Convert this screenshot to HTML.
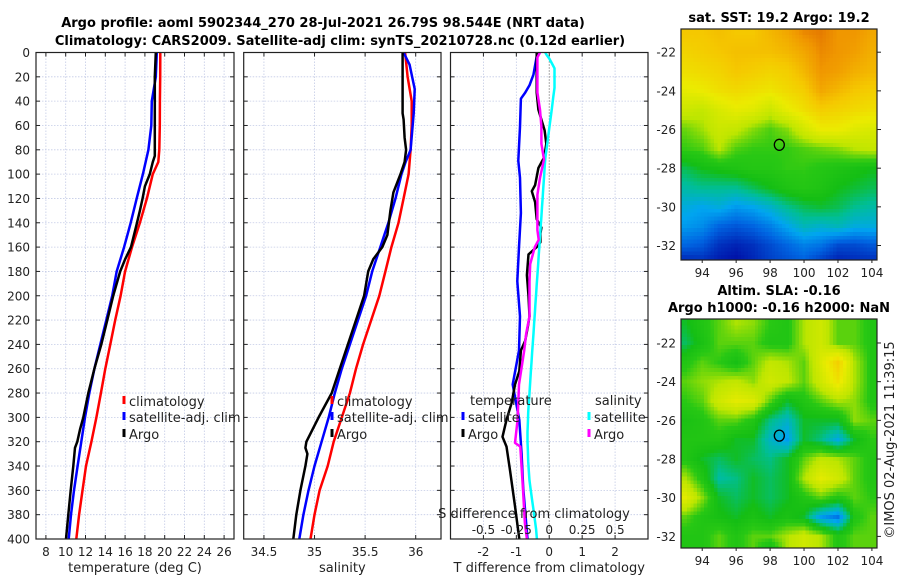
<!DOCTYPE html>
<html><head><meta charset="utf-8"><style>
html,body{margin:0;padding:0;background:#fff;}
svg{display:block;font-family:"DejaVu Sans","Liberation Sans",sans-serif;}
</style></head><body>
<svg id="c" width="900" height="580" viewBox="0 0 900 580" xmlns="http://www.w3.org/2000/svg">
<defs>
<clipPath id="clipM1"><rect x="681" y="29" width="196" height="231"/></clipPath>
<clipPath id="clipM2"><rect x="681" y="319" width="196" height="229"/></clipPath>
</defs>
<text x="323" y="27" text-anchor="middle" font-weight="bold" font-size="13">Argo profile: aoml 5902344_270 28-Jul-2021 26.79S 98.544E (NRT data)</text>
<text x="340" y="45" text-anchor="middle" font-weight="bold" font-size="13">Climatology: CARS2009. Satellite-adj clim: synTS_20210728.nc (0.12d earlier)</text>
<text x="779" y="22" text-anchor="middle" font-weight="bold" font-size="13">sat. SST: 19.2 Argo: 19.2</text>
<text x="779" y="295" text-anchor="middle" font-weight="bold" font-size="13">Altim. SLA: -0.16</text>
<text x="779" y="312" text-anchor="middle" font-weight="bold" font-size="13">Argo h1000: -0.16 h2000: NaN</text>
<text transform="translate(894,440) rotate(-90)" text-anchor="middle" font-size="13" fill="#222">©IMOS 02-Aug-2021 11:39:15</text>
</svg>
<script>
// ---------- data ----------
const depthTicks=[0,20,40,60,80,100,120,140,160,180,200,220,240,260,280,300,320,340,360,380,400];
const tempTicks=[8,10,12,14,16,18,20,22,24,26];
const salTicks=[34.5,35,35.5,36];
const salTickLabels=["34.5","35","35.5","36"];
const tdiffTicks=[-2,-1,0,1,2];
const sdiffTicks=[-0.5,-0.25,0,0.25,0.5];
const sdiffTickLabels=["-0.5","-0.25","0","0.25","0.5"];

const climDepth=[0,20,40,60,80,90,100,120,140,160,180,200,220,240,260,280,300,320,340,360,380,400];
const climTemp=[19.56,19.55,19.52,19.5,19.45,19.35,18.8,18.2,17.5,16.7,16.0,15.55,15.0,14.5,14.0,13.56,13.1,12.6,12.05,11.7,11.35,11.07];
const climSal=[35.895,35.92,35.96,35.96,35.95,35.94,35.93,35.88,35.83,35.76,35.70,35.64,35.56,35.48,35.41,35.35,35.27,35.19,35.13,35.05,35.0,34.96];

const satDepth=[0,20,30,40,60,80,100,120,140,160,180,200,220,240,260,280,300,320,340,360,380,400];
const satTemp=[19.2,19.1,18.9,18.7,18.65,18.35,17.8,17.17,16.57,15.9,15.15,14.7,14.1,13.5,12.9,12.38,11.95,11.58,11.2,10.84,10.54,10.3];
const satSalDepth=[0,10,30,50,80,90,100,120,140,160,180,200,220,240,260,280,300,320,340,360,380,400];
const satSal=[35.88,35.94,35.99,35.98,35.95,35.9,35.86,35.80,35.73,35.65,35.57,35.51,35.43,35.35,35.27,35.20,35.14,35.07,35.0,34.94,34.89,34.85];

const argoDepth=[0,20,40,60,80,85,90,100,110,120,130,140,150,160,170,180,200,220,240,260,280,300,310,320,325,340,360,380,400];
const argoTemp=[19.1,19.0,19.0,19.0,19.0,19.0,18.8,18.5,18.0,17.77,17.5,17.2,16.9,16.6,16.0,15.5,14.8,14.2,13.6,12.9,12.28,11.78,11.44,11.17,10.94,10.77,10.5,10.26,10.03];
const argoSalDepth=[0,10,30,50,55,70,80,90,100,115,130,150,160,170,180,200,220,240,260,280,300,320,325,330,340,360,380,400];
const argoSal=[35.87,35.87,35.87,35.87,35.88,35.89,35.905,35.89,35.85,35.78,35.75,35.72,35.67,35.58,35.53,35.49,35.41,35.33,35.25,35.17,35.04,34.92,34.91,34.93,34.91,34.86,34.82,34.79];

const satTdDepth=[0,18,27,33,38,61,89,103,132,160,188,217,245,273,302,330,358,400];
const satTdiff=[-0.36,-0.48,-0.6,-0.73,-0.86,-0.89,-0.94,-0.89,-0.86,-0.92,-0.97,-0.89,-0.92,-1.11,-0.91,-0.84,-0.79,-0.66];
const argoTdDepth=[0,4,33,47,64,75,86,95,109,114,123,137,144,149,156,160,166,183,200,217,225,237,245,262,273,288,302,316,324,344,373,400];
const argoTdiff=[-0.38,-0.38,-0.38,-0.33,-0.14,-0.09,-0.15,-0.33,-0.43,-0.53,-0.43,-0.38,-0.24,-0.27,-0.27,-0.38,-0.63,-0.68,-0.63,-0.6,-0.65,-0.73,-0.86,-0.91,-1.04,-1.14,-1.3,-1.42,-1.3,-1.19,-1.04,-0.91];
const satSdDepth=[0,2,5,9,13,21,29,37,46,54,62,71,79,87,95,103,111,119,127,135,143,151,159,167,175,183,191,199,207,215,223,231,239,247,255,263,271,280,288,296,304,312,320,328,336,344,352,360,368,376,384,392,400];
const satSdiff=[-0.03,-0.02,0.0,0.02,0.04,0.04,0.04,0.03,0.02,0.01,0.0,-0.01,-0.02,-0.03,-0.035,-0.04,-0.045,-0.05,-0.055,-0.06,-0.065,-0.07,-0.075,-0.08,-0.085,-0.09,-0.095,-0.1,-0.105,-0.11,-0.115,-0.12,-0.125,-0.13,-0.135,-0.14,-0.145,-0.15,-0.155,-0.16,-0.162,-0.165,-0.165,-0.162,-0.16,-0.155,-0.15,-0.14,-0.13,-0.12,-0.11,-0.1,-0.094];
const argoSdDepth=[0,4,33,47,61,75,88,103,117,132,146,154,160,174,188,217,231,245,259,273,288,302,321,324,358,387,400];
const argoSdiff=[-0.07,-0.09,-0.09,-0.07,-0.06,-0.06,-0.04,-0.07,-0.09,-0.09,-0.09,-0.08,-0.11,-0.145,-0.15,-0.15,-0.175,-0.19,-0.21,-0.23,-0.235,-0.24,-0.26,-0.22,-0.2,-0.185,-0.17];

const mapLons=[93,94,95,96,97,98,99,100,101,102,103,104];
const mapLats=[-21,-22,-23,-24,-25,-26,-27,-28,-29,-30,-31,-32,-33];
const lonTicks=[94,96,98,100,102,104];
const latTicks=[-22,-24,-26,-28,-30,-32];
const sstGrid=[
[20.6,20.6,20.7,20.6,20.6,20.8,21.0,21.3,21.4,21.2,21.2,21.0],
[20.4,20.5,20.6,20.7,20.7,20.7,20.8,21.0,21.3,21.2,21.1,20.9],
[20.2,20.3,20.4,20.6,20.5,20.4,20.5,20.8,21.2,21.1,20.9,20.8],
[19.9,20.0,20.2,20.3,20.2,20.1,20.3,20.5,21.0,20.8,20.6,20.5],
[19.5,19.4,19.7,19.9,19.8,19.5,19.9,20.2,20.5,20.4,20.3,20.2],
[19.0,19.2,19.5,19.4,19.1,18.9,19.1,19.6,20.0,20.0,19.8,19.7],
[18.8,18.9,19.3,18.9,18.8,18.8,18.8,18.9,19.0,19.1,19.3,19.4],
[18.2,18.4,18.5,18.6,18.7,18.7,18.8,18.8,18.7,18.6,18.5,18.4],
[17.9,18.0,18.0,18.0,18.2,18.4,18.6,18.7,18.6,18.4,18.3,18.2],
[17.6,17.5,17.6,17.4,17.5,17.7,18.0,18.2,18.3,18.2,18.0,17.9],
[17.4,17.3,17.0,16.9,17.0,17.2,17.5,17.8,17.7,17.8,17.6,17.6],
[17.0,16.9,16.6,16.5,16.6,16.8,17.0,17.2,17.1,16.8,16.8,16.9],
[16.4,16.5,16.4,16.3,16.5,16.7,16.8,16.9,16.6,16.4,16.5,16.5]];
const slaGrid=[
[-0.05,0,0.05,0.1,0.08,0.02,0,0.1,0.15,0.05,0.05,0],
[-0.08,-0.02,0.05,0.05,0.05,0,0,0.1,0.15,0.05,0.05,0],
[0,0.05,0.02,-0.03,0.05,0.12,0.1,0.05,0.18,0.3,0.1,0],
[0.05,0.08,0.1,0.12,0.08,0.15,0.12,0.05,0.15,0.25,0.1,0],
[0.02,0.05,0.15,0.2,0.18,0.05,-0.05,0,0.05,0.1,0.08,0],
[-0.02,0,0.05,0.05,0,-0.1,-0.15,-0.05,-0.05,-0.05,0.08,0.05],
[0,0,0,-0.05,-0.05,-0.15,-0.2,-0.05,-0.1,-0.18,-0.05,0.02],
[0,-0.05,-0.08,-0.05,-0.08,-0.1,-0.05,0.05,0.12,0.1,0.05,0],
[0.1,0,-0.12,-0.1,-0.05,-0.08,-0.05,0.1,0.2,0.15,0.05,0],
[0.2,0.08,-0.05,-0.08,-0.05,-0.08,-0.05,0,0.05,0,0.05,0.02],
[0.05,0,-0.03,-0.05,-0.02,-0.05,-0.02,-0.05,-0.2,-0.25,0,0.05],
[0,0,0.05,0,0.05,0.05,0.1,0.15,0.1,0,0.05,0.05],
[0,0,0.05,0,0.05,-0.1,0.1,0.15,0.1,0,0.05,0.05]];
const argoLon=[98.544];
const argoLat=[-26.79];

// ---------- helpers ----------
const svg=document.getElementById('c');
const NS='http://www.w3.org/2000/svg';
function mk(tag,attrs,parent){const e=document.createElementNS(NS,tag);for(const k in attrs)e.setAttribute(k,attrs[k]);(parent||svg).appendChild(e);return e;}
function lin(d0,d1,r0,r1){return v=>r0+(v-d0)*(r1-r0)/(d1-d0);}
const cmStops=[[0,0,0,130],[0.08,0,20,170],[0.18,0,100,225],[0.26,0,165,240],[0.34,0,190,150],[0.41,20,190,20],[0.47,40,200,20],[0.56,190,230,0],[0.67,235,235,0],[0.77,245,200,0],[0.87,240,150,0],[0.93,220,100,0],[1,180,30,0]];
function cmap(t){t=Math.max(0,Math.min(1,t));
 for(let i=1;i<cmStops.length;i++){if(t<=cmStops[i][0]){const a=cmStops[i-1],b=cmStops[i],f=(t-a[0])/(b[0]-a[0]);
  return `rgb(${Math.round(a[1]+f*(b[1]-a[1]))},${Math.round(a[2]+f*(b[2]-a[2]))},${Math.round(a[3]+f*(b[3]-a[3]))})`;}}
 return 'rgb(180,30,0)';}

const Y0=52.5,Y1=539;
const yD=lin(0,400,Y0,Y1);
const panels=[
 {name:'temperature-panel',x0:36,x1:234,dom:[7,27],ticks:tempTicks,labels:tempTicks.map(String),xlabel:'temperature (deg C)'},
 {name:'salinity-panel',x0:243.7,x1:441,dom:[34.3,36.25],ticks:salTicks,labels:salTickLabels,xlabel:'salinity'},
 {name:'difference-panel',x0:450.5,x1:648,dom:[-3,3],ticks:tdiffTicks,labels:tdiffTicks.map(String),xlabel:'T difference from climatology'}
];
panels.forEach(p=>{p.x=lin(p.dom[0],p.dom[1],p.x0,p.x1);});

function drawPanel(p,idx){
 const g=mk('g',{});
 
 
 const bg=mk('rect',{x:p.x0,y:Y0,width:p.x1-p.x0,height:Y1-Y0,fill:'#fff'},g);
 
 
 depthTicks.forEach(d=>{const y=yD(d);
  const l=mk('line',{x1:p.x0,x2:p.x1,y1:y,y2:y,stroke:'#c4cbe6','stroke-width':0.8,'stroke-dasharray':'1.5,1.5'},g);
  
  
  mk('line',{x1:p.x0,x2:p.x0+4,y1:y,y2:y,stroke:'#222'},g);
  mk('line',{x1:p.x1,x2:p.x1-4,y1:y,y2:y,stroke:'#222'},g);
 });
 p.ticks.forEach((t,i)=>{const x=p.x(t);
  if(!(idx===2&&t===0)){
   const l=mk('line',{x1:x,x2:x,y1:Y0,y2:Y1,stroke:'#c4cbe6','stroke-width':0.8,'stroke-dasharray':'1.5,1.5'},g);
   
   
  }
  mk('line',{x1:x,x2:x,y1:Y0,y2:Y0+4,stroke:'#222'},g);
  mk('line',{x1:x,x2:x,y1:Y1,y2:Y1-4,stroke:'#222'},g);
  const tx=mk('text',{x:x,y:556,'text-anchor':'middle','font-size':12,fill:'#222'},g);
  tx.textContent=p.labels[i];
  
  
 });
 const xl=mk('text',{x:(p.x0+p.x1)/2,y:572,'text-anchor':'middle','font-size':13,fill:'#222'},g);
 xl.textContent=p.xlabel;
 
 
 return g;
}
function line(g,p,vals,deps,color,name,w){
 const pts=vals.map((v,i)=>p.x(v).toFixed(1)+','+yD(deps[i]).toFixed(1)).join(' ');
 const pl=mk('polyline',{points:pts,fill:'none',stroke:color,'stroke-width':w||2.5,'stroke-linejoin':'round'},g);
 
 
}
function frame(p){const r=mk('rect',{x:p.x0,y:Y0,width:p.x1-p.x0,height:Y1-Y0,fill:'none',stroke:'#222','stroke-width':1.2});
 
 }
function legend(g,x,y,color,label){
 const m=mk('line',{x1:x,x2:x,y1:y-10,y2:y-2,stroke:color,'stroke-width':3},g);
 
 
 const t=mk('text',{x:x+5,y:y,'font-size':13,fill:'#222'},g);
 t.textContent=label;
 
 
}

depthTicks.forEach(d=>{const t=mk('text',{x:30,y:yD(d)+4.5,'text-anchor':'end','font-size':12,fill:'#222'});
 t.textContent=String(d);
 
 });

let g=drawPanel(panels[0],0);
line(g,panels[0],climTemp,climDepth,'#ff0000','climatology-temperature-line');
line(g,panels[0],satTemp,satDepth,'#0000ff','satellite-temperature-line');
line(g,panels[0],argoTemp,argoDepth,'#000','argo-temperature-line');
legend(g,124,406,'#ff0000','climatology');
legend(g,124,422,'#0000ff','satellite-adj. clim');
legend(g,124,439,'#000','Argo');
g=drawPanel(panels[1],1);
line(g,panels[1],climSal,climDepth,'#ff0000','climatology-salinity-line');
line(g,panels[1],satSal,satSalDepth,'#0000ff','satellite-salinity-line');
line(g,panels[1],argoSal,argoSalDepth,'#000','argo-salinity-line');
legend(g,332,406,'#ff0000','climatology');
legend(g,332,422,'#0000ff','satellite-adj. clim');
legend(g,332,439,'#000','Argo');
frame(panels[0]);
const p3=panels[2];
const sx=lin(-0.75,0.75,p3.x0,p3.x1);
g=drawPanel(p3,2);
const z=mk('line',{x1:p3.x(0),x2:p3.x(0),y1:Y0,y2:Y1,stroke:'#555','stroke-width':1,'stroke-dasharray':'1,2'},g);


line(g,p3,satTdiff,satTdDepth,'#0000ff','satellite-tdiff-line');
line(g,p3,argoTdiff,argoTdDepth,'#000','argo-tdiff-line');
const ps={x:sx};
line(g,ps,satSdiff,satSdDepth,'#00ffff','satellite-sdiff-line');
line(g,ps,argoSdiff,argoSdDepth,'#ff00ff','argo-sdiff-line');
const lt=mk('text',{x:470,y:405,'font-size':13,fill:'#222'},g);lt.textContent='temperature';


const ls=mk('text',{x:595,y:405,'font-size':13,fill:'#222'},g);ls.textContent='salinity';


legend(g,463,422,'#0000ff','satellite');
legend(g,463,439,'#000','Argo');
legend(g,589,422,'#00ffff','satellite');
legend(g,589,439,'#ff00ff','Argo');
const st=mk('text',{x:534,y:518,'text-anchor':'middle','font-size':13,fill:'#222'},g);st.textContent='S difference from climatology';


sdiffTicks.forEach((t,i)=>{const tx=mk('text',{x:sx(t),y:534,'text-anchor':'middle','font-size':12,fill:'#222'},g);
 tx.textContent=sdiffTickLabels[i];
 
 });
frame(panels[1]);frame(p3);

// maps: cells from grid arrays, rendered with bilinear sub-sampling for smooth look
function drawMap(name,grid,vmin,vmax,box,lat0,lat1,clip,sub){
 const mx=lin(92.75,104.3,box.x0,box.x1), my=lin(lat0,lat1,box.y0,box.y1);
 const g=mk('g',{'clip-path':`url(#${clip})`,'shape-rendering':'crispEdges'});
 
 
 const nR=mapLats.length,nC=mapLons.length;
 const val=(r,c)=>grid[Math.max(0,Math.min(nR-1,r))][Math.max(0,Math.min(nC-1,c))];
 const step=1/sub;
 for(let la=mapLats[0]+0.5;la>mapLats[nR-1]-0.5-1e-9;la-=step){
  for(let lo=mapLons[0]-0.5;lo<mapLons[nC-1]+0.5-1e-9;lo+=step){
   const cl=lo+step/2, ca=la-step/2;
   const fc=cl-mapLons[0], fr=mapLats[0]-ca;
   const c0=Math.floor(fc), r0=Math.floor(fr), tx=fc-c0, ty=fr-r0;
   const v=(1-ty)*((1-tx)*val(r0,c0)+tx*val(r0,c0+1))+ty*((1-tx)*val(r0+1,c0)+tx*val(r0+1,c0+1));
   const x0=mx(lo),x1=mx(lo+step),y0=my(la),y1=my(la-step);
   const rc=mk('rect',{x:x0.toFixed(2),y:y0.toFixed(2),width:(x1-x0+0.5).toFixed(2),height:(y1-y0+0.5).toFixed(2),fill:cmap((v-vmin)/(vmax-vmin))},g);
   
   
  }
 }
 const fr=mk('rect',{x:box.x0,y:box.y0,width:box.x1-box.x0,height:box.y1-box.y0,fill:'none',stroke:'#222','stroke-width':1.2});
 
 
 const ci=mk('ellipse',{cx:mx(argoLon[0]),cy:my(argoLat[0]),rx:5,ry:5.5,fill:'none',stroke:'#000','stroke-width':1.3});
 
 
 latTicks.forEach(la=>{const y=my(la);
  const t=mk('text',{x:box.x0-5,y:y+4.5,'text-anchor':'end','font-size':12,fill:'#222'});t.textContent=String(la);
  
  
  mk('line',{x1:box.x1,x2:box.x1+4,y1:y,y2:y,stroke:'#222'});});
 lonTicks.forEach(lo=>{const x=mx(lo);
  const t=mk('text',{x:x,y:box.y1+17,'text-anchor':'middle','font-size':12,fill:'#222'});t.textContent=String(lo);
  
  
  mk('line',{x1:x,x2:x,y1:box.y1,y2:box.y1+3,stroke:'#222'});});
}
drawMap('sst-map',sstGrid,15.9,22.0,{x0:681,x1:877,y0:29,y1:260},-20.8,-32.75,'clipM1',5);
drawMap('sla-map',slaGrid,-0.45,0.55,{x0:681,x1:877,y0:319,y1:548},-20.76,-32.6,'clipM2',5);
</script>
</body></html>
